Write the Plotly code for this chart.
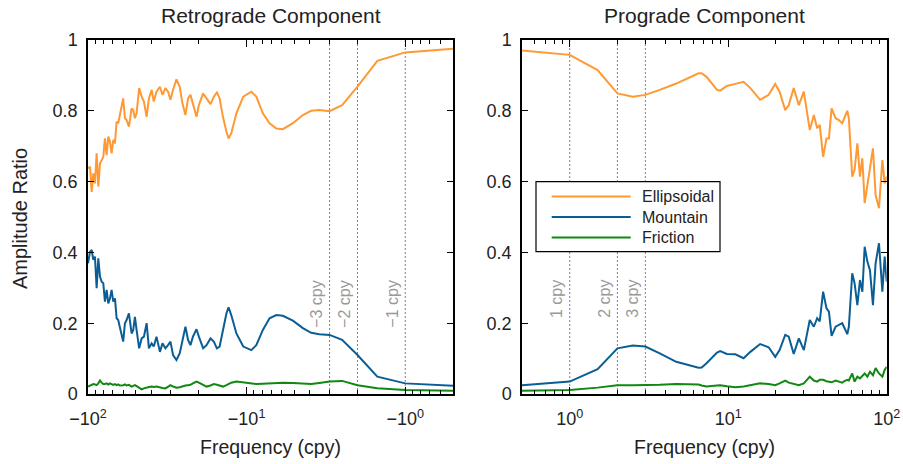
import numpy as np
import plotly.graph_objects as go

# ---------------- data ----------------
# Retrograde component (negative frequencies, cpy)
retro_freq = [-100, -97.1, -94.8, -92.6, -90.4, -88.2, -86.1, -84.0, -82.0, -80.1,
              -78.2, -76.3, -74.5, -72.7, -71.0, -69.3, -67.6, -66.0, -64.5, -62.9,
              -60.0, -58.5, -57.1, -55.2, -53.1, -51.9, -50.6, -49.4, -47.6, -45.9,
              -44.4, -42.7, -41.3, -39.7, -38.5, -37.0, -35.2, -33.9, -32.5, -31.3,
              -30.2, -29.1, -27.7, -26.4, -25.4, -24.3, -23.4, -22.6, -21.8, -20.7,
              -20.0, -18.8, -17.9, -16.9, -16.1, -15.4, -14.8, -14.1, -13.4, -13.0,
              -12.5, -11.6, -10.5, -9.34, -8.69, -7.90, -7.17, -6.50, -5.91, -5.11,
              -4.42, -3.92, -3.48, -3.0, -2.5, -2.0, -1.5, -1.0, -0.5]
retro_ellipsoidal = [0.638, 0.642, 0.571, 0.623, 0.595, 0.680, 0.586, 0.652, 0.660, 0.670,
                     0.722, 0.675, 0.727, 0.713, 0.680, 0.718, 0.708, 0.769, 0.765, 0.788,
                     0.835, 0.779, 0.774, 0.755, 0.807, 0.802, 0.779, 0.793, 0.864, 0.840,
                     0.826, 0.783, 0.835, 0.859, 0.826, 0.854, 0.868, 0.845, 0.864, 0.854,
                     0.831, 0.859, 0.889, 0.868, 0.821, 0.788, 0.835, 0.845, 0.816, 0.783,
                     0.816, 0.849, 0.835, 0.819, 0.840, 0.852, 0.835, 0.783, 0.741, 0.722,
                     0.736, 0.793, 0.840, 0.854, 0.840, 0.793, 0.765, 0.750, 0.748, 0.765,
                     0.788, 0.800, 0.802, 0.799, 0.816, 0.868, 0.941, 0.965, 0.975]
retro_mountain = [0.369, 0.402, 0.407, 0.379, 0.388, 0.299, 0.383, 0.331, 0.317, 0.313,
                  0.261, 0.294, 0.256, 0.270, 0.294, 0.261, 0.270, 0.214, 0.209, 0.190,
                  0.148, 0.200, 0.209, 0.228, 0.171, 0.180, 0.218, 0.181, 0.129, 0.157,
                  0.162, 0.200, 0.129, 0.143, 0.134, 0.162, 0.119, 0.143, 0.129, 0.138,
                  0.148, 0.110, 0.096, 0.115, 0.153, 0.190, 0.153, 0.138, 0.162, 0.183,
                  0.162, 0.129, 0.138, 0.157, 0.148, 0.129, 0.134, 0.181, 0.228, 0.245,
                  0.223, 0.171, 0.134, 0.124, 0.138, 0.181, 0.214, 0.223, 0.221, 0.207,
                  0.186, 0.173, 0.169, 0.167, 0.153, 0.110, 0.049, 0.030, 0.023]
retro_friction = [0.021, 0.024, 0.026, 0.028, 0.027, 0.025, 0.030, 0.038, 0.032, 0.028,
                  0.028, 0.030, 0.027, 0.030, 0.028, 0.026, 0.028, 0.025, 0.027, 0.024,
                  0.025, 0.027, 0.024, 0.026, 0.021, 0.023, 0.025, 0.022, 0.017, 0.013,
                  0.016, 0.019, 0.020, 0.021, 0.020, 0.021, 0.018, 0.017, 0.016, 0.020,
                  0.025, 0.021, 0.018, 0.019, 0.022, 0.024, 0.025, 0.026, 0.030, 0.035,
                  0.032, 0.025, 0.021, 0.024, 0.028, 0.026, 0.023, 0.021, 0.025, 0.029,
                  0.032, 0.035, 0.033, 0.030, 0.028, 0.029, 0.030, 0.031, 0.032, 0.031,
                  0.029, 0.028, 0.031, 0.035, 0.037, 0.025, 0.016, 0.011, 0.009]

# Prograde component (positive frequencies, cpy)
pro_freq = [0.5, 1.0, 1.5, 2.0, 2.5, 3.0, 3.7, 4.7, 6.5, 6.8,
            7.3, 8.5, 8.9, 9.8, 11.1, 12.5, 13.8, 15.9, 18.0, 19.8,
            21.1, 22.9, 24.1, 25.9, 27.9, 30.0, 32.7, 34.7, 36.4, 37.8,
            39.7, 41.7, 43.2, 44.9, 47.6, 49.9, 52.4, 53.7, 56.4, 57.7,
            60.6, 62.7, 65.3, 67.8, 70.2, 72.6, 75.5, 78.4, 81.9, 85.1,
            89.4, 93.9, 97.1, 100]
pro_ellipsoidal = [0.970, 0.958, 0.915, 0.849, 0.840, 0.845, 0.859, 0.877, 0.906, 0.906,
                   0.896, 0.859, 0.857, 0.870, 0.876, 0.882, 0.864, 0.831, 0.845, 0.876,
                   0.854, 0.802, 0.816, 0.864, 0.816, 0.854, 0.746, 0.788, 0.751, 0.760,
                   0.670, 0.722, 0.722, 0.807, 0.779, 0.774, 0.765, 0.776, 0.800, 0.779,
                   0.614, 0.633, 0.708, 0.614, 0.666, 0.539, 0.590, 0.633, 0.694, 0.562,
                   0.525, 0.661, 0.595, 0.614]
pro_mountain = [0.025, 0.035, 0.070, 0.129, 0.137, 0.134, 0.115, 0.091, 0.074, 0.075,
                0.087, 0.117, 0.121, 0.113, 0.112, 0.101, 0.119, 0.141, 0.132, 0.105,
                0.124, 0.167, 0.162, 0.113, 0.157, 0.124, 0.209, 0.190, 0.214, 0.205,
                0.289, 0.242, 0.233, 0.164, 0.190, 0.195, 0.200, 0.190, 0.169, 0.190,
                0.341, 0.313, 0.251, 0.322, 0.289, 0.416, 0.374, 0.350, 0.251, 0.369,
                0.426, 0.289, 0.388, 0.317]
pro_friction = [0.009, 0.011, 0.018, 0.025, 0.025, 0.025, 0.026, 0.028, 0.027, 0.024,
                0.021, 0.024, 0.025, 0.022, 0.019, 0.021, 0.024, 0.030, 0.028, 0.025,
                0.030, 0.038, 0.032, 0.028, 0.025, 0.030, 0.049, 0.038, 0.035, 0.040,
                0.040, 0.036, 0.035, 0.033, 0.038, 0.035, 0.032, 0.036, 0.040, 0.038,
                0.058, 0.035, 0.049, 0.044, 0.050, 0.058, 0.049, 0.063, 0.053, 0.073,
                0.058, 0.049, 0.068, 0.077]

series_names = ["Ellipsoidal", "Mountain", "Friction"]
series_colors = ["#FF9933", "#0B5E95", "#118811"]

retro_marks = [-3, -2, -1]
retro_mark_labels = ["\u22123 cpy", "\u22122 cpy", "\u22121 cpy"]
pro_marks = [1, 2, 3]
pro_mark_labels = ["1 cpy", "2 cpy", "3 cpy"]

y_ticks = [0, 0.2, 0.4, 0.6, 0.8, 1]
y_ticklabels = ["0", "0.2", "0.4", "0.6", "0.8", "1"]
x_major = [1, 10, 100]
retro_xticklabels = ["\u221210<sup>0</sup>", "\u221210<sup>1</sup>", "\u221210<sup>2</sup>"]
pro_xticklabels = ["10<sup>0</sup>", "10<sup>1</sup>", "10<sup>2</sup>"]

# ---------------- figure ----------------
# page body margin is removed by the post script below, so no offset
OFF = 0
W, H = 903 - OFF, 464 - OFF


def fx(px):
    return (px - OFF) / W


def fy(py):
    return 1 - (py - OFF) / H


FONT = "Liberation Sans, Arial, Helvetica, sans-serif"
TXT = "#222222"
fig = go.Figure()

# vertical dotted reference lines
for m in retro_marks:
    fig.add_trace(go.Scatter(x=[abs(m), abs(m)], y=[0, 1], mode="lines",
                             line=dict(color="#808080", width=1, dash="2px,2px"),
                             showlegend=False, hoverinfo="skip", xaxis="x", yaxis="y"))
for m in pro_marks:
    fig.add_trace(go.Scatter(x=[m, m], y=[0, 1], mode="lines",
                             line=dict(color="#808080", width=1, dash="2px,2px"),
                             showlegend=False, hoverinfo="skip", xaxis="x2", yaxis="y2"))

retro_abs = np.abs(np.array(retro_freq))
for name, col, vals in zip(series_names, series_colors,
                           [retro_ellipsoidal, retro_mountain, retro_friction]):
    fig.add_trace(go.Scatter(x=retro_abs, y=vals, mode="lines", name=name,
                             line=dict(color=col, width=2), showlegend=False,
                             xaxis="x", yaxis="y"))
for name, col, vals in zip(series_names, series_colors,
                           [pro_ellipsoidal, pro_mountain, pro_friction]):
    fig.add_trace(go.Scatter(x=pro_freq, y=vals, mode="lines", name=name,
                             line=dict(color=col, width=2), showlegend=False,
                             xaxis="x2", yaxis="y2"))

minor_vals = [v * d for d in [0.1, 1, 10] for v in range(2, 10)]

x_common = dict(type="log", showgrid=False, zeroline=False, showline=True,
                linecolor="black", linewidth=1.5, mirror="ticks", automargin=False,
                ticks="inside", ticklen=7, tickwidth=1, tickcolor="black",
                tickmode="array", tickvals=x_major,
                tickfont=dict(family=FONT, size=18, color=TXT),
                ticklabelstandoff=8,
                minor=dict(ticks="inside", ticklen=4, tickwidth=1, tickcolor="black",
                           tickmode="array", tickvals=minor_vals, showgrid=False))
y_common = dict(range=[0, 1], showgrid=False, zeroline=False, showline=True,
                linecolor="black", linewidth=1.5, mirror="ticks", automargin=False,
                ticks="inside", ticklen=6, tickwidth=1, tickcolor="black",
                tickmode="array", tickvals=y_ticks, ticktext=y_ticklabels,
                tickfont=dict(family=FONT, size=18, color=TXT),
                ticklabelstandoff=5)

L1, R1, L2, R2, TOP, BOT = 88, 453, 522, 886.7, 40, 394
fig.update_layout(
    width=W, height=H, margin=dict(l=0, r=0, t=0, b=0, pad=0, autoexpand=False),
    paper_bgcolor="white", plot_bgcolor="white",
    font=dict(family=FONT, size=17, color=TXT),
    xaxis=dict(domain=[fx(L1), fx(R1)], range=[2, np.log10(0.5)],
               ticktext=retro_xticklabels, anchor="y", **x_common),
    yaxis=dict(domain=[fy(BOT), fy(TOP)], anchor="x", **y_common),
    xaxis2=dict(domain=[fx(L2), fx(R2)], range=[np.log10(0.5), 2],
                ticktext=pro_xticklabels, anchor="y2", **x_common),
    yaxis2=dict(domain=[fy(BOT), fy(TOP)], anchor="x2", **y_common),
    showlegend=False,
)

ann = []
shapes = []
# panel titles
ann.append(dict(text="Retrograde Component", x=fx((L1 + R1) / 2), y=fy(16),
                xref="paper", yref="paper", showarrow=False, xanchor="center",
                yanchor="middle", font=dict(family=FONT, size=21, color=TXT)))
ann.append(dict(text="Prograde Component", x=fx((L2 + R2) / 2), y=fy(16),
                xref="paper", yref="paper", showarrow=False, xanchor="center",
                yanchor="middle", font=dict(family=FONT, size=21, color=TXT)))
# axis titles
for cx in [fx((L1 + R1) / 2), fx((L2 + R2) / 2)]:
    ann.append(dict(text="Frequency (cpy)", x=cx, y=fy(447), xref="paper",
                    yref="paper", showarrow=False, xanchor="center", yanchor="middle",
                    font=dict(family=FONT, size=19.5, color=TXT)))
ann.append(dict(text="Amplitude Ratio", x=fx(20), y=fy(219), xref="paper",
                yref="paper", showarrow=False, textangle=-90, xanchor="center",
                yanchor="middle", font=dict(family=FONT, size=20, color=TXT)))
# reference line labels
for m, lab in zip(retro_marks, retro_mark_labels):
    ann.append(dict(text=lab, x=np.log10(abs(m)), y=0.328, xref="x", yref="y",
                    showarrow=False, textangle=-90, xanchor="right", yanchor="top",
                    xshift=-2, font=dict(family=FONT, size=16, color="#999999")))
for m, lab in zip(pro_marks, pro_mark_labels):
    ann.append(dict(text=lab, x=np.log10(m), y=0.328, xref="x2", yref="y2",
                    showarrow=False, textangle=-90, xanchor="right", yanchor="top",
                    xshift=-2, font=dict(family=FONT, size=16, color="#999999")))

# legend box (drawn in the prograde panel)
LEG_L, LEG_R, LEG_T, LEG_B = 536, 720, 181.7, 251.7
leg_rows = [196.5, 217, 237.5]
shapes.append(dict(type="rect", xref="paper", yref="paper",
                   x0=fx(LEG_L), x1=fx(LEG_R), y0=fy(LEG_B), y1=fy(LEG_T),
                   line=dict(color="black", width=1.2), fillcolor="white", layer="above"))
for name, col, ry in zip(series_names, series_colors, leg_rows):
    shapes.append(dict(type="line", xref="paper", yref="paper",
                       x0=fx(551.7), x1=fx(630.7), y0=fy(ry), y1=fy(ry),
                       line=dict(color=col, width=2), layer="above"))
    ann.append(dict(text=name, x=fx(640), y=fy(ry), xref="paper", yref="paper",
                    showarrow=False, xanchor="left", yanchor="middle",
                    font=dict(family=FONT, size=16, color=TXT)))

fig.update_layout(annotations=ann, shapes=shapes)

fig.write_html(
    "out.html",
    config={"displayModeBar": False},
    post_script="document.body.style.margin='0';document.body.style.overflow='hidden';",
)
